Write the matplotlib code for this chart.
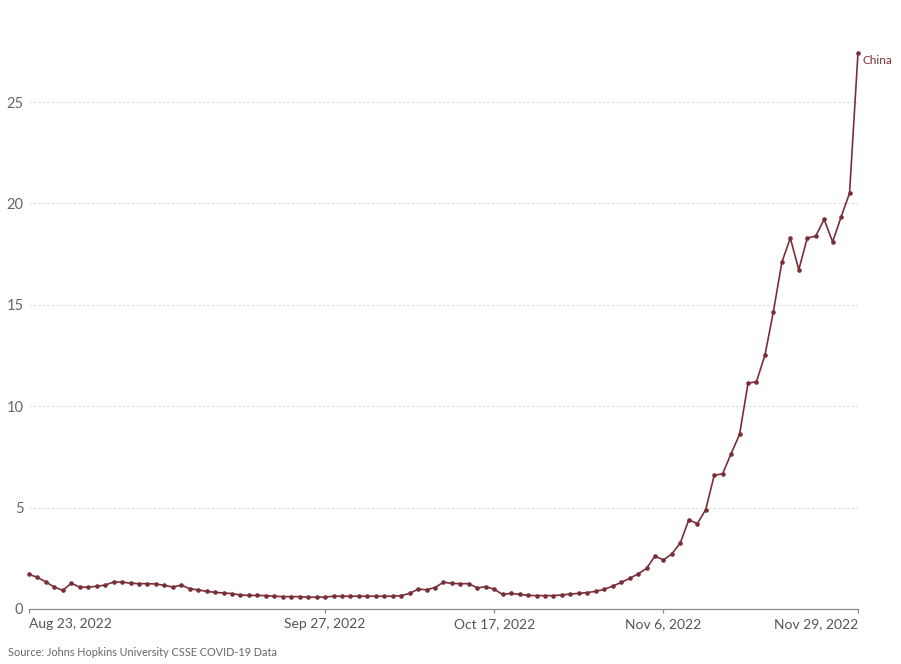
import matplotlib
matplotlib.use("Agg")
import matplotlib.pyplot as plt
import matplotlib.dates as mdates
import numpy as np
import datetime as dt

plt.rcParams['font.family'] = ['Lato', 'DejaVu Sans']

start_date = "2022-08-23"
values = [1.71, 1.56, 1.33, 1.08, 0.92, 1.27, 1.08, 1.08, 1.12, 1.18,
          1.33, 1.33, 1.27, 1.25, 1.25, 1.23, 1.17, 1.08, 1.18, 1.00,
          0.94, 0.87, 0.82, 0.79, 0.76, 0.69, 0.67, 0.67, 0.66, 0.63,
          0.61, 0.61, 0.61, 0.58, 0.58, 0.59, 0.63, 0.63, 0.63, 0.63,
          0.63, 0.63, 0.63, 0.63, 0.66, 0.77, 0.98, 0.95, 1.06, 1.32,
          1.26, 1.25, 1.25, 1.04, 1.10, 0.97, 0.72, 0.77, 0.72, 0.67,
          0.66, 0.66, 0.66, 0.69, 0.74, 0.77, 0.81, 0.87, 0.97, 1.13,
          1.31, 1.51, 1.73, 2.00, 2.61, 2.42, 2.72, 3.26, 4.40, 4.21,
          4.90, 6.59, 6.67, 7.66, 8.61, 11.13, 11.21, 12.52, 14.66, 17.10,
          18.29, 16.73, 18.29, 18.39, 19.21, 18.10, 19.33, 20.50, 27.43]
series_name = "China"
tick_dates = ["2022-08-23", "2022-09-27", "2022-10-17", "2022-11-06", "2022-11-29"]
tick_labels = ["Aug 23, 2022", "Sep 27, 2022", "Oct 17, 2022", "Nov 6, 2022", "Nov 29, 2022"]
y_ticks = [0, 5, 10, 15, 20, 25]
source = "Source: Johns Hopkins University CSSE COVID-19 Data"

color = "#7a2f38"
d0 = dt.date.fromisoformat(start_date)
dates = [d0 + dt.timedelta(days=i) for i in range(len(values))]

W, H = 901, 664
fig = plt.figure(figsize=(W/100, H/100), dpi=100)
ymax = 28
left, right = 29, 858
bottom = 609
top = bottom - ymax * 20.28
ax = fig.add_axes([left/W, (H-bottom)/H, (right-left)/W, (bottom-top)/H])

ax.plot(dates, values, color=color, lw=1.2, marker='o', ms=2.3, zorder=3, clip_on=False)
ax.set_xlim(dates[0], dates[-1])
ax.set_ylim(0, ymax)

for s in ['top', 'right', 'left']:
    ax.spines[s].set_visible(False)
ax.spines['bottom'].set_color('#888888')
ax.spines['bottom'].set_linewidth(0.9)

ax.set_yticks(y_ticks)
ax.set_yticklabels([str(v) for v in y_ticks])
ax.tick_params(axis='y', length=0, pad=4, labelsize=10.5, labelcolor='#666666')
ax.yaxis.grid(True, linestyle=(0, (2, 2)), color='#dddddd', lw=0.8)
ax.set_axisbelow(True)

tds = [dt.date.fromisoformat(t) for t in tick_dates]
ax.set_xticks(tds)
ax.set_xticklabels(tick_labels)
ax.tick_params(axis='x', length=3, width=0.9, color='#888888', pad=3.5, labelsize=10, labelcolor='#555555')
labels = ax.get_xticklabels()
labels[0].set_ha('left')
labels[-1].set_ha('right')

ax.annotate(series_name, xy=(dates[-1], values[-1]), xytext=(3, -5.5), textcoords='offset points',
            color=color, fontsize=8.5, ha='left', va='center', annotation_clip=False)

fig.text(8/W, 1 - 652/H, source, fontsize=7.8, color='#666666', ha='left', va='center')

fig.savefig("out.png", dpi=100)
